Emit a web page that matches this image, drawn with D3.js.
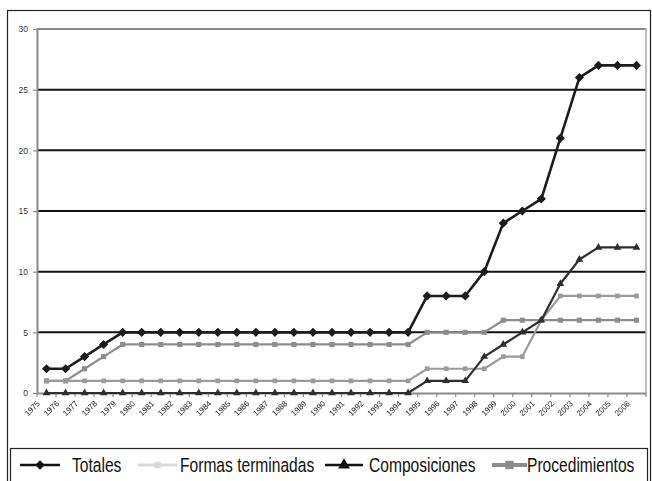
<!DOCTYPE html>
<html>
<head>
<meta charset="utf-8">
<script src="https://cdn.jsdelivr.net/npm/d3@7"></script>
<style>
  body { margin: 0; background: #fff; }
  svg { display: block; }
  text { font-family: "Liberation Sans", Arial, sans-serif; }
</style>
</head>
<body>
<svg id="chart" width="652" height="481"></svg>
<script>
var years = ["1975","1976","1977","1978","1979","1980","1981","1982","1983","1984","1985",
             "1986","1987","1988","1989","1990","1991","1992","1993","1994","1995","1996",
             "1997","1998","1999","2000","2001","2002","2003","2004","2005","2006"];
var totales =        [2,2,3,4,5, 5,5,5,5,5,5,5,5,5,5,5,5,5,5,5, 8,8,8,10,14,15,16,21,26,27,27,27];
var formas =         [1,1,1,1,1, 1,1,1,1,1,1,1,1,1,1,1,1,1,1,1, 2,2,2,2,3,3,6,8,8,8,8,8];
var composiciones =  [0,0,0,0,0, 0,0,0,0,0,0,0,0,0,0,0,0,0,0,0, 1,1,1,3,4,5,6,9,11,12,12,12];
var procedimientos = [1,1,2,3,4, 4,4,4,4,4,4,4,4,4,4,4,4,4,4,4, 5,5,5,5,6,6,6,6,6,6,6,6];
var yTicks = [0, 5, 10, 15, 20, 25, 30];
var names = ["Totales", "Formas terminadas", "Composiciones", "Procedimientos"];

// diamond = square turned by 45 degrees
var diamond = {
    draw: function(ctx, size){
        var r = Math.sqrt(size / 2);
        ctx.moveTo(0, -r); ctx.lineTo(r, 0); ctx.lineTo(0, r); ctx.lineTo(-r, 0); ctx.closePath();
    }
};

function init () {
    var left = 37, right = 646, top = 29, bottom = 393;
    var svg = d3.select("#chart");

    // outer frame
    svg.append("rect")
        .attr("x", 7.5).attr("y", 10.5)
        .attr("width", 643).attr("height", 490)
        .attr("fill", "none").attr("stroke", "#222").attr("stroke-width", 1.2);

    var x = d3.scaleBand().domain(years).range([left, right]);
    var y = d3.scaleLinear().domain([0, 30]).range([bottom, top]);
    var cx = function(i){ return x(years[i]) + x.bandwidth() / 2; };

    // gridlines
    svg.selectAll(".grid")
        .data(yTicks.filter(function(d){ return d > 0; }))
        .enter().append("line")
        .attr("x1", left).attr("x2", right)
        .attr("y1", function(d){ return y(d); })
        .attr("y2", function(d){ return y(d); })
        .attr("stroke", function(d){ return d == 30 ? "#8a8a8a" : "#111"; })
        .attr("stroke-width", 2);

    // right border of plot area
    svg.append("line")
        .attr("x1", right).attr("x2", right).attr("y1", top).attr("y2", bottom)
        .attr("stroke", "#aaa").attr("stroke-width", 1.5);

    // y axis
    var gy = svg.append("g")
        .attr("transform", "translate(" + left + ",0)")
        .call(d3.axisLeft(y).tickValues(yTicks).tickSize(4).tickSizeOuter(0).tickPadding(5));
    gy.select(".domain").attr("stroke", "#8a8a8a").attr("stroke-width", 2);
    gy.selectAll(".tick line").attr("stroke", "#8a8a8a").attr("stroke-width", 1.2);
    gy.selectAll(".tick text")
        .attr("fill", "#333").style("font-size", "8.5px")
        .style("font-family", "'Liberation Sans', Arial, sans-serif");

    // x axis
    var gx = svg.append("g")
        .attr("transform", "translate(0," + bottom + ")")
        .style("opacity", 0.999)
        .call(d3.axisBottom(x).tickSize(0).tickSizeOuter(0));
    gx.select(".domain").attr("stroke", "#8a8a8a").attr("stroke-width", 2);
    gx.selectAll(".tick text")
        .attr("y", 0).attr("dy", "0.35em")
        .attr("transform", "translate(-8,9) rotate(-45)")
        .style("text-anchor", "end")
        .attr("fill", "#222").style("font-size", "8px")
        .style("font-family", "'Liberation Sans', Arial, sans-serif");
    // tick marks on category boundaries
    gx.selectAll(".bound")
        .data(years.concat(["end"]))
        .enter().append("line")
        .attr("x1", function(d, i){ return left + i * x.step(); })
        .attr("x2", function(d, i){ return left + i * x.step(); })
        .attr("y1", 0).attr("y2", 4)
        .attr("stroke", "#8a8a8a").attr("stroke-width", 1.2);

    var line = d3.line()
        .x(function(d, i){ return cx(i); })
        .y(function(d){ return y(d); });

    var series = [
        { name: names[3], values: procedimientos, color: "#8c8c8c", width: 2.2, symbol: d3.symbolSquare, size: 26 },
        { name: names[1], values: formas, color: "#9a9a9a", width: 2.2, symbol: d3.symbolSquare, size: 22 },
        { name: names[2], values: composiciones, color: "#2e2e2e", width: 2.2, symbol: d3.symbolTriangle, size: 26 },
        { name: names[0], values: totales, color: "#1c1c1c", width: 2.6, symbol: diamond, size: 42 }
    ];

    series.forEach(function(s){
        svg.append("path")
            .attr("d", line(s.values))
            .attr("fill", "none")
            .attr("stroke", s.color)
            .attr("stroke-width", s.width)
            .attr("stroke-linejoin", "round");
        svg.selectAll(null)
            .data(s.values)
            .enter().append("path")
            .attr("d", d3.symbol().type(s.symbol).size(s.size))
            .attr("transform", function(d, i){ return "translate(" + cx(i) + "," + y(d) + ")"; })
            .attr("fill", s.color);
    });

    // legend
    svg.append("rect")
        .attr("x", 10.5).attr("y", 448.5)
        .attr("width", 637).attr("height", 50)
        .attr("fill", "#fff").attr("stroke", "#222").attr("stroke-width", 1.2);

    var legend = [
        { name: names[0], color: "#111", x1: 20, x2: 60, tx: 72, symbol: diamond, size: 45, width: 2.6 },
        { name: names[1], color: "#d9d9d9", x1: 138, x2: 177, tx: 180, symbol: d3.symbolSquare, size: 40, width: 3 },
        { name: names[2], color: "#111", x1: 325, x2: 363, tx: 369, symbol: d3.symbolTriangle, size: 60, width: 2.6 },
        { name: names[3], color: "#8c8c8c", x1: 492, x2: 527, tx: 527, symbol: d3.symbolSquare, size: 70, width: 4 }
    ];
    var ly = 465;
    legend.forEach(function(l){
        svg.append("line")
            .attr("x1", l.x1).attr("x2", l.x2).attr("y1", ly).attr("y2", ly)
            .attr("stroke", l.color).attr("stroke-width", l.width);
        svg.append("path")
            .attr("d", d3.symbol().type(l.symbol).size(l.size))
            .attr("transform", "translate(" + ((l.x1 + l.x2) / 2) + "," + ly + ")")
            .attr("fill", l.color);
        svg.append("text")
            .attr("transform", "translate(" + l.tx + "," + (ly + 7) + ") scale(0.8,1)")
            .style("font-size", "19.5px")
            .attr("fill", "#111")
            .text(l.name);
    });
}

window.onload = init;
</script>
</body>
</html>
